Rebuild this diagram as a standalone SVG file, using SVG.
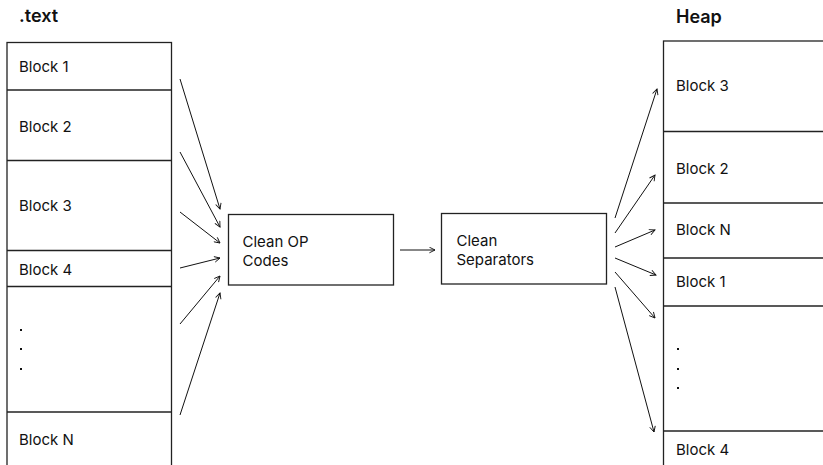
<svg xmlns="http://www.w3.org/2000/svg" width="823" height="465" viewBox="0 0 823 465">
  <style>
    .lbl { font-family: Inter, "Liberation Sans", sans-serif; font-size: 15px; fill: #111; }
    .title { font-family: Inter, "Liberation Sans", sans-serif; font-size: 18px; font-weight: 600; fill: #111; }
    .box { fill: #fff; stroke: #222; stroke-width: 1.3; }
    .div { stroke: #222; stroke-width: 1.3; fill: none; }
    .conn { stroke: #111; stroke-width: 1; fill: none; marker-end: url(#head); }
    .dot { fill: #111; }
  </style>
  <defs>
    <marker id="head" viewBox="0 0 10 10" refX="9" refY="5" markerWidth="7" markerHeight="7" markerUnits="userSpaceOnUse" orient="auto">
      <path d="M1,1 L9,5 L1,9" fill="none" stroke="#111" stroke-width="1.3"/>
    </marker>
  </defs>
  <rect width="823" height="465" fill="#fff"/>

  <!-- .text segment -->
  <g id="text-segment">
    <text class="title" x="19" y="22">.text</text>
    <rect class="box" x="7" y="42.5" width="164.5" height="440"/>
    <line class="div" x1="7" y1="90" x2="171.5" y2="90"/>
    <line class="div" x1="7" y1="160.5" x2="171.5" y2="160.5"/>
    <line class="div" x1="7" y1="250.5" x2="171.5" y2="250.5"/>
    <line class="div" x1="7" y1="286.5" x2="171.5" y2="286.5"/>
    <line class="div" x1="7" y1="412" x2="171.5" y2="412"/>
    <text class="lbl" x="19" y="72">Block 1</text>
    <text class="lbl" x="19" y="132">Block 2</text>
    <text class="lbl" x="19" y="211">Block 3</text>
    <text class="lbl" x="19" y="275">Block 4</text>
    <rect class="dot" x="20" y="329" width="2" height="2"/>
    <rect class="dot" x="20" y="348" width="2" height="2"/>
    <rect class="dot" x="20" y="368" width="2" height="2"/>
    <text class="lbl" x="19" y="445">Block N</text>
  </g>

  <!-- processing steps -->
  <g id="clean-op-codes">
    <rect class="box" x="228.5" y="214.5" width="165" height="70.5"/>
    <text class="lbl" x="242.5" y="247">Clean OP</text>
    <text class="lbl" x="242.5" y="265.5">Codes</text>
  </g>
  <g id="clean-separators">
    <rect class="box" x="441.5" y="213.5" width="165" height="70.5"/>
    <text class="lbl" x="456.5" y="245.5">Clean</text>
    <text class="lbl" x="456.5" y="265">Separators</text>
  </g>

  <!-- heap -->
  <g id="heap">
    <text class="title" x="676" y="23">Heap</text>
    <rect class="box" x="663.5" y="41" width="200" height="440"/>
    <line class="div" x1="663.5" y1="131.5" x2="823" y2="131.5" stroke-width="1.8"/>
    <line class="div" x1="663.5" y1="203" x2="823" y2="203"/>
    <line class="div" x1="663.5" y1="258" x2="823" y2="258"/>
    <line class="div" x1="663.5" y1="306" x2="823" y2="306"/>
    <line class="div" x1="663.5" y1="431" x2="823" y2="431"/>
    <text class="lbl" x="676" y="91">Block 3</text>
    <text class="lbl" x="676" y="174">Block 2</text>
    <text class="lbl" x="676" y="235">Block N</text>
    <text class="lbl" x="676" y="287">Block 1</text>
    <rect class="dot" x="677" y="348" width="2" height="2"/>
    <rect class="dot" x="677" y="368" width="2" height="2"/>
    <rect class="dot" x="677" y="387" width="2" height="2"/>
    <text class="lbl" x="676" y="455">Block 4</text>
  </g>

  <!-- connectors -->
  <g id="connectors">
    <line class="conn" x1="180" y1="79" x2="220" y2="209"/>
    <line class="conn" x1="180" y1="152" x2="220" y2="227"/>
    <line class="conn" x1="180" y1="212" x2="220" y2="243"/>
    <line class="conn" x1="180" y1="268" x2="220" y2="258"/>
    <line class="conn" x1="180" y1="324" x2="220" y2="276"/>
    <line class="conn" x1="180" y1="415" x2="220" y2="293"/>
    <line class="conn" x1="400" y1="250" x2="435" y2="250"/>
    <line class="conn" x1="615" y1="218" x2="657" y2="89"/>
    <line class="conn" x1="615" y1="233" x2="655" y2="175"/>
    <line class="conn" x1="615" y1="247" x2="655" y2="230"/>
    <line class="conn" x1="615" y1="258" x2="656" y2="275"/>
    <line class="conn" x1="615" y1="272" x2="655" y2="318"/>
    <line class="conn" x1="615" y1="287" x2="654" y2="432"/>
  </g>
</svg>
